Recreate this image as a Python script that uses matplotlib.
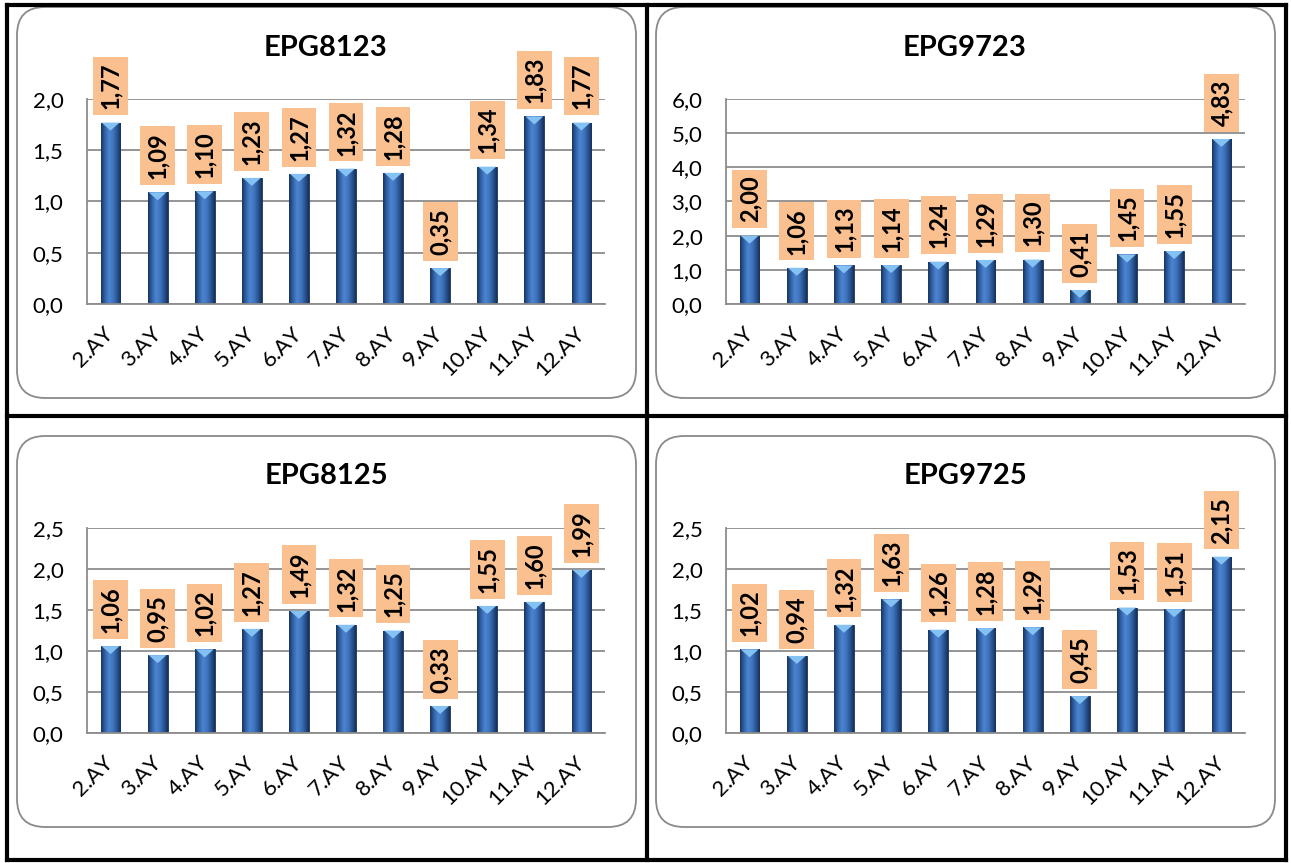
import matplotlib
matplotlib.use("Agg")
import matplotlib.pyplot as plt
import numpy as np
from matplotlib.colors import LinearSegmentedColormap
from matplotlib.patches import FancyBboxPatch, Polygon
from matplotlib.lines import Line2D
from matplotlib.ticker import FuncFormatter, MultipleLocator

# Data
MONTHS = ["2.AY", "3.AY", "4.AY", "5.AY", "6.AY", "7.AY", "8.AY", "9.AY", "10.AY", "11.AY", "12.AY"]
EPG8123 = [1.77, 1.09, 1.10, 1.23, 1.27, 1.32, 1.28, 0.35, 1.34, 1.83, 1.77]
EPG9723 = [2.00, 1.06, 1.13, 1.14, 1.24, 1.29, 1.30, 0.41, 1.45, 1.55, 4.83]
EPG8125 = [1.06, 0.95, 1.02, 1.27, 1.49, 1.32, 1.25, 0.33, 1.55, 1.60, 1.99]
EPG9725 = [1.02, 0.94, 1.32, 1.63, 1.26, 1.28, 1.29, 0.45, 1.53, 1.51, 2.15]
TITLES = ["EPG8123", "EPG9723", "EPG8125", "EPG9725"]
Y_MAX = [2.0, 6.0, 2.5, 2.5]
Y_STEP = [0.5, 1.0, 0.5, 0.5]

plt.rcParams["font.family"] = ["Lato", "DejaVu Sans"]

W, H = 1291, 863
fig = plt.figure(figsize=(W / 100, H / 100), dpi=100)

BAR_CMAP = LinearSegmentedColormap.from_list(
    "bar", ["#1a3460", "#3163a8", "#4c84d0", "#4076c0", "#2b5896", "#17305a"])
LABEL_BG = "#fac090"
GRID = "#8c8c8c"


def px_axes(left, top, right, bottom):
    """Add axes from pixel coordinates (origin top-left)."""
    return fig.add_axes([left / W, 1 - bottom / H, (right - left) / W, (bottom - top) / H])


def rounded_box(left, top, right, bottom):
    """Draw the rounded chart frame in pixel coordinates."""
    box = FancyBboxPatch((left / 100, (H - bottom) / 100), (right - left) / 100, (bottom - top) / 100,
                         boxstyle="round,pad=0,rounding_size=0.28", transform=fig.dpi_scale_trans,
                         fc="white", ec="#8a8a8a", lw=1.3, zorder=-1)
    fig.patches.append(box)


def comma(v, pos):
    return f"{v:.1f}".replace(".", ",")


def draw_chart(ax, values, title, ymax, ystep, title_xy):
    x = np.arange(len(values))
    bars = ax.bar(x, values, width=0.42, color="#2f5fa3", edgecolor="#17325a", lw=0.6, zorder=2)

    # gradient fill and light cap on each bar
    grad = np.linspace(0, 1, 64).reshape(1, -1)
    cap = ymax * 8 / 205
    for b in bars:
        x0, w, h = b.get_x(), b.get_width(), b.get_height()
        im = ax.imshow(grad, cmap=BAR_CMAP, aspect="auto", extent=(x0, x0 + w, 0, h), zorder=2.5)
        im.set_clip_path(b)
        ax.add_patch(Polygon([(x0 + 0.02, h), (x0 + w - 0.02, h), (x0 + w / 2, h - cap)],
                             closed=True, fc="#85c2f4", ec="none", zorder=3))

    # data labels
    for xi, v in zip(x, values):
        ax.annotate(f"{v:.2f}".replace(".", ","), (xi, v), xytext=(0, 9.5), textcoords="offset points",
                    rotation=90, ha="center", va="bottom", fontsize=17, fontweight="bold",
                    bbox=dict(boxstyle="square,pad=0.25", fc=LABEL_BG, ec="none"), zorder=5)

    ax.set_xlim(-0.5, len(values) - 0.5)
    ax.set_ylim(0, ymax)
    ax.yaxis.set_major_locator(MultipleLocator(ystep))
    ax.yaxis.set_major_formatter(FuncFormatter(comma))
    ax.grid(axis="y", color=GRID, lw=1.3, zorder=1)
    ax.set_axisbelow(True)
    for side in ["top", "right"]:
        ax.spines[side].set_visible(False)
    for side in ["left", "bottom"]:
        ax.spines[side].set_color(GRID)
        ax.spines[side].set_linewidth(1.3)
    ax.set_xticks(x)
    ax.set_xticklabels(MONTHS, rotation=45, ha="right", va="center", rotation_mode="anchor", fontsize=16)
    ax.tick_params(axis="x", length=0, pad=19)
    ax.tick_params(axis="y", length=0, pad=17, labelsize=16)
    ax.set_facecolor("none")

    fig.text(title_xy[0] / W, 1 - title_xy[1] / H, title, ha="center", va="center",
             fontsize=21, fontweight="bold")


# Table borders
lines = [((7, 1286), (5, 5)), ((7, 1286), (860, 860)), ((7, 7), (5, 860)), ((1286, 1286), (5, 860)),
         ((647, 647), (5, 860)), ((7, 1286), (416, 416))]
for xs, ys in lines:
    fig.add_artist(Line2D([xs[0] / W, xs[1] / W], [1 - ys[0] / H, 1 - ys[1] / H],
                          transform=fig.transFigure, color="black", lw=3))

boxes = [(17, 7, 636, 398), (656, 7, 1275, 398), (17, 436, 636, 827), (656, 436, 1275, 827)]
plot_areas = [(87, 99, 605, 304), (726, 99, 1245, 304), (87, 528, 605, 733), (726, 528, 1245, 733)]
title_pos = [(326, 48), (965, 48), (326, 476), (965, 476)]
series = [EPG8123, EPG9723, EPG8125, EPG9725]

for i in range(4):
    rounded_box(*boxes[i])
    ax = px_axes(*plot_areas[i])
    draw_chart(ax, series[i], TITLES[i], Y_MAX[i], Y_STEP[i], title_pos[i])

fig.savefig("out.png", dpi=100)
